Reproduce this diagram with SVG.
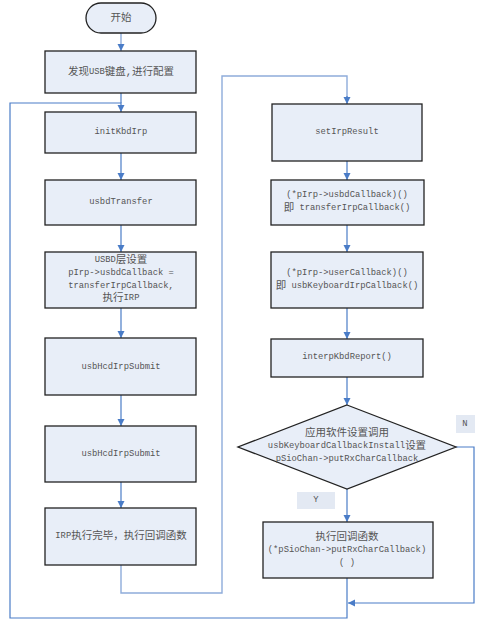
<svg xmlns="http://www.w3.org/2000/svg" width="484" height="629" viewBox="0 0 484 629">
<style>
.box{fill:#e8eef8;stroke:#222;stroke-width:1.3}
.t{font-family:"Liberation Mono","Noto Sans CJK SC",monospace;font-size:8.8px;fill:#555;text-anchor:middle;dominant-baseline:central}
.c{font-size:10.5px}
.ln{fill:none;stroke:#4a7cc7;stroke-width:1.2}
.lt{fill:none;stroke:#8eacda;stroke-width:1.4}
.lbl{fill:#e3e9f3}
</style>
<defs>
<marker id="ah" markerWidth="8" markerHeight="8" refX="7" refY="4" orient="auto" markerUnits="userSpaceOnUse">
<path d="M0,0.5 L7,4 L0,7.5 z" fill="#4a7cc7"/>
</marker>
</defs>
<g id="connectors">
<path class="lt" d="M121,33 V51" marker-end="url(#ah)"/>
<path class="ln" d="M121,93 V103"/>
<path class="ln" d="M347,578 V618 H10 V103 H121 V112" marker-end="url(#ah)"/>
<path class="ln" d="M121,153 V180" marker-end="url(#ah)"/>
<path class="ln" d="M121,225 V252" marker-end="url(#ah)"/>
<path class="ln" d="M121,308 V338" marker-end="url(#ah)"/>
<path class="ln" d="M121,395 V426" marker-end="url(#ah)"/>
<path class="ln" d="M121,482 V508" marker-end="url(#ah)"/>
<path class="lt" d="M121,565 V593 H222 V76 H347 V98"/>
<path class="ln" d="M347,96 V104" marker-end="url(#ah)"/>
<path class="ln" d="M347,161 V180" marker-end="url(#ah)"/>
<path class="ln" d="M347,225 V252" marker-end="url(#ah)"/>
<path class="ln" d="M347,308 V339" marker-end="url(#ah)"/>
<path class="ln" d="M347,377 V405" marker-end="url(#ah)"/>
<path class="ln" d="M347,489 V522" marker-end="url(#ah)"/>
<path class="ln" d="M456,447 H474 V603 H348" marker-end="url(#ah)"/>
</g>
<g id="start"><rect class="box" x="86" y="3" width="70" height="30" rx="15"/><text class="t" x="121" y="18"><tspan class="c">开始</tspan></text></g>
<g id="discover"><rect class="box" x="45" y="51" width="151" height="42"/><text class="t" x="121" y="72"><tspan class="c">发现</tspan>USB<tspan class="c">键盘,进行配置</tspan></text></g>
<g id="initKbdIrp"><rect class="box" x="45" y="112" width="151" height="41"/><text class="t" x="121" y="132">initKbdIrp</text></g>
<g id="usbdTransfer"><rect class="box" x="45" y="180" width="151" height="45"/><text class="t" x="121" y="202">usbdTransfer</text></g>
<g id="usbdSet"><rect class="box" x="45" y="252" width="151" height="56"/>
<text class="t" x="121" y="260">USBD<tspan class="c">层设置</tspan></text>
<text class="t" x="121" y="273">pIrp-&gt;usbdCallback =</text>
<text class="t" x="121" y="286">transferIrpCallback,</text>
<text class="t" x="121" y="298"><tspan class="c">执行</tspan>IRP</text></g>
<g id="hcd1"><rect class="box" x="45" y="338" width="151" height="57"/><text class="t" x="121" y="367">usbHcdIrpSubmit</text></g>
<g id="hcd2"><rect class="box" x="45" y="426" width="151" height="56"/><text class="t" x="121" y="454">usbHcdIrpSubmit</text></g>
<g id="irpDone"><rect class="box" x="45" y="508" width="151" height="57"/><text class="t" x="121" y="536">IRP<tspan class="c">执行完毕，执行回调函数</tspan></text></g>
<g id="setIrpResult"><rect class="box" x="272" y="104" width="150" height="57"/><text class="t" x="347" y="132">setIrpResult</text></g>
<g id="usbdCb"><rect class="box" x="271" y="180" width="153" height="45"/>
<text class="t" x="347" y="195">(*pIrp-&gt;usbdCallback)()</text>
<text class="t" x="347" y="208"><tspan class="c">即</tspan> transferIrpCallback()</text></g>
<g id="userCb"><rect class="box" x="271" y="252" width="152" height="56"/>
<text class="t" x="347" y="273">(*pIrp-&gt;userCallback)()</text>
<text class="t" x="347" y="286"><tspan class="c">即</tspan> usbKeyboardIrpCallback()</text></g>
<g id="interp"><rect class="box" x="271" y="339" width="152" height="38"/><text class="t" x="347" y="357">interpKbdReport()</text></g>
<g id="decision"><polygon class="box" points="347,405 456,447 347,489 238,447"/>
<text class="t" x="347" y="433"><tspan class="c">应用软件设置调用</tspan></text>
<text class="t" x="347" y="446">usbKeyboardCallbackInstall<tspan class="c">设置</tspan></text>
<text class="t" x="347" y="459">pSioChan-&gt;putRxCharCallback</text></g>
<g id="labelY"><rect class="lbl" x="297" y="492" width="38" height="17"/><text class="t" x="316" y="500">Y</text></g>
<g id="labelN"><rect class="lbl" x="456" y="415" width="19" height="18"/><text class="t" x="465" y="424">N</text></g>
<g id="final"><rect class="box" x="263" y="522" width="170" height="56"/>
<text class="t" x="347" y="537"><tspan class="c">执行回调函数</tspan></text>
<text class="t" x="347" y="550">(*pSioChan-&gt;putRxCharCallback)</text>
<text class="t" x="347" y="563">( )</text></g>
</svg>
